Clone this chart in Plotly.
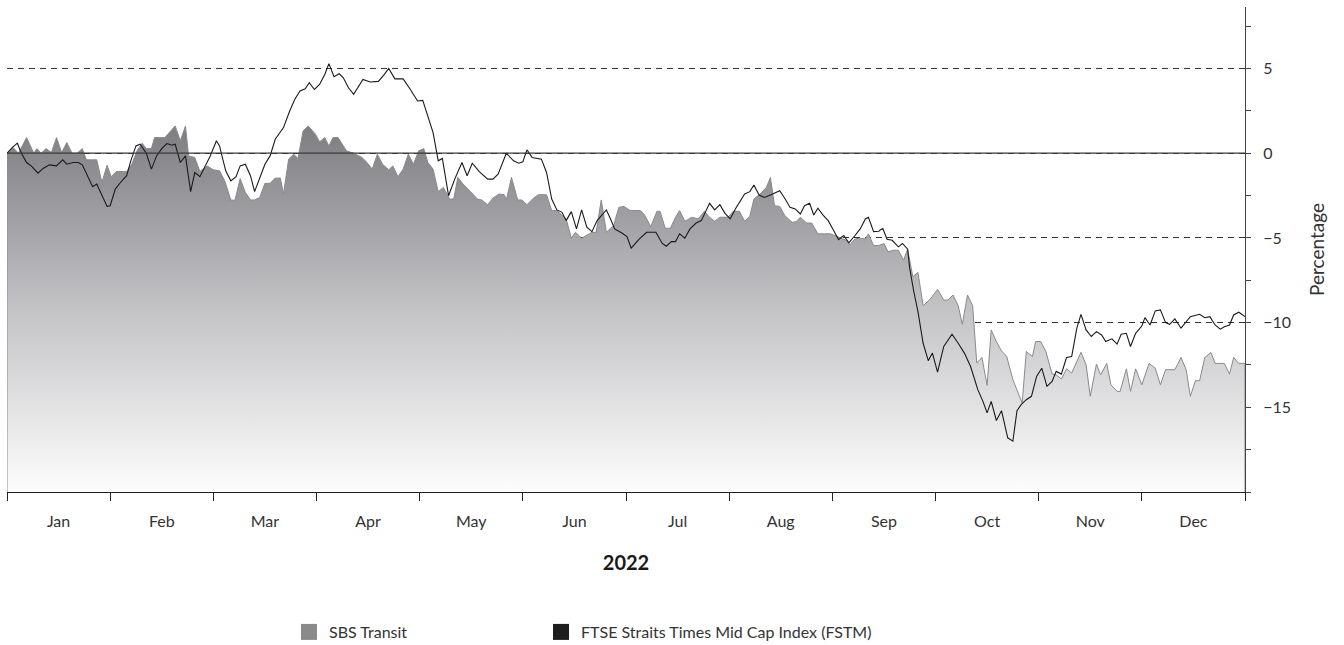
import plotly.graph_objects as go

# ---- data (x in months since 1 Jan 2022, values in %) ----
months = ["Jan", "Feb", "Mar", "Apr", "May", "Jun", "Jul", "Aug", "Sep", "Oct", "Nov", "Dec"]

sbs_t = [0.00, 0.06, 0.11, 0.19, 0.26, 0.29, 0.33, 0.38, 0.43, 0.48, 0.53, 0.58, 0.63, 0.68, 0.73, 0.77,
         0.87, 0.92, 0.97, 1.01, 1.06, 1.16, 1.21, 1.26, 1.31, 1.35, 1.40, 1.43, 1.53, 1.63, 1.68, 1.73,
         1.76, 1.82, 1.87, 1.94, 2.00, 2.06, 2.11, 2.17, 2.21, 2.26, 2.31, 2.36, 2.40, 2.45, 2.50, 2.55,
         2.60, 2.65, 2.68, 2.73, 2.78, 2.82, 2.87, 2.92, 2.99, 3.03, 3.08, 3.12, 3.16, 3.21, 3.29, 3.36,
         3.44, 3.49, 3.54, 3.59, 3.64, 3.70, 3.74, 3.79, 3.84, 3.89, 3.94, 3.99, 4.04, 4.08, 4.13, 4.18,
         4.23, 4.29, 4.33, 4.37, 4.42, 4.49, 4.56, 4.60, 4.66, 4.71, 4.77, 4.82, 4.84, 4.89, 4.95, 4.99,
         5.04, 5.10, 5.15, 5.23, 5.28, 5.33, 5.39, 5.42, 5.47, 5.51, 5.57, 5.62, 5.67, 5.71, 5.76, 5.81,
         5.88, 5.93, 5.98, 6.04, 6.14, 6.18, 6.24, 6.30, 6.33, 6.38, 6.43, 6.48, 6.52, 6.57, 6.64, 6.70,
         6.76, 6.81, 6.86, 6.91, 6.99, 7.04, 7.10, 7.15, 7.20, 7.24, 7.31, 7.36, 7.40, 7.44, 7.49, 7.54,
         7.61, 7.65, 7.69, 7.75, 7.80, 7.86, 7.98, 8.04, 8.09, 8.14, 8.17, 8.22, 8.27, 8.32, 8.35, 8.40,
         8.45, 8.46, 8.50, 8.54, 8.59, 8.64, 8.69, 8.73, 8.78, 8.83, 8.88, 8.95, 9.02, 9.08, 9.12, 9.17,
         9.22, 9.26, 9.31, 9.36, 9.40, 9.45, 9.50, 9.54, 9.59, 9.64, 9.69, 9.75, 9.84, 9.88, 9.94, 9.97,
         10.02, 10.07, 10.13, 10.17, 10.22, 10.27, 10.32, 10.41, 10.46, 10.50, 10.56, 10.60, 10.66, 10.70,
         10.76, 10.79, 10.85, 10.89, 10.94, 11.00, 11.07, 11.13, 11.18, 11.23, 11.32, 11.38, 11.43, 11.47,
         11.52, 11.56, 11.61, 11.67, 11.71, 11.80, 11.85, 11.89, 11.94, 12.00]
sbs_v = [0.00, 0.33, 0.00, 0.92, 0.00, 0.27, 0.00, 0.27, 0.04, 0.92, 0.04, 0.63, 0.00, 0.00, 0.27, -0.39,
         -0.39, -1.73, -0.71, -1.39, -1.08, -1.08, -0.65, 0.14, 0.59, 0.27, 0.27, 0.92, 0.92, 1.61, 0.73, 1.61,
         -0.16, -0.25, -1.08, -0.75, -0.98, -1.04, -1.63, -2.77, -2.77, -1.50, -2.31, -2.76, -2.76, -2.61, -1.78, -1.78,
         -1.47, -1.47, -2.41, -0.35, -0.06, -0.31, 1.31, 1.61, 1.12, 0.67, 0.92, 0.43, 0.92, 0.92, 0.14, 0.00,
         -0.25, -0.55, -0.94, -0.06, -0.65, -0.98, -0.75, -1.39, -0.94, -0.06, -0.65, 0.14, 0.27, -0.55, -0.94, -2.27,
         -2.02, -2.71, -2.71, -1.43, -1.82, -2.25, -2.71, -2.76, -3.04, -2.65, -2.41, -2.45, -2.76, -1.43, -2.76, -2.76,
         -3.04, -2.67, -2.45, -2.45, -3.39, -3.39, -3.75, -3.88, -5.02, -4.67, -5.02, -4.86, -4.67, -4.67, -2.76, -4.67,
         -4.27, -3.20, -3.14, -3.39, -3.39, -3.65, -4.33, -3.43, -3.43, -4.43, -4.43, -3.78, -3.39, -4.02, -3.78, -3.88,
         -3.43, -3.78, -4.02, -3.78, -3.78, -3.43, -3.43, -4.02, -3.73, -2.71, -2.35, -2.02, -1.43, -3.10, -3.14, -3.69,
         -4.08, -4.04, -3.78, -4.12, -4.12, -4.76, -4.76, -4.90, -5.02, -5.16, -5.41, -5.06, -5.02, -5.06, -4.76, -5.45,
         -5.45, -5.43, -5.33, -5.82, -5.73, -5.73, -6.31, -5.67, -7.29, -7.04, -9.00, -8.61, -8.04, -8.67, -8.67, -8.37,
         -9.00, -10.10, -8.37, -9.00, -12.39, -12.06, -13.71, -10.43, -11.12, -11.67, -12.00, -13.37, -14.75, -11.71, -12.00, -11.12,
         -11.12, -11.71, -13.04, -13.08, -13.33, -12.73, -12.98, -11.75, -12.49, -14.35, -12.45, -13.08, -12.41, -13.67,
         -14.06, -14.06, -12.73, -14.06, -12.73, -13.67, -12.41, -12.69, -13.67, -12.78, -12.78, -12.06, -12.78, -14.35,
         -13.43, -13.43, -12.06, -11.76, -12.41, -12.41, -13.04, -12.06, -12.41, -12.41]

fstm_t = [0.00, 0.05, 0.10, 0.14, 0.19, 0.24, 0.30, 0.35, 0.41, 0.48, 0.54, 0.58, 0.64, 0.69, 0.73, 0.78,
          0.83, 0.87, 0.92, 0.97, 1.00, 1.05, 1.10, 1.16, 1.20, 1.25, 1.29, 1.35, 1.40, 1.45, 1.50, 1.55,
          1.60, 1.63, 1.68, 1.73, 1.78, 1.82, 1.87, 1.92, 1.97, 2.03, 2.06, 2.12, 2.17, 2.22, 2.26, 2.31,
          2.36, 2.40, 2.45, 2.50, 2.55, 2.60, 2.68, 2.74, 2.79, 2.84, 2.89, 2.93, 2.98, 3.03, 3.08, 3.12,
          3.17, 3.22, 3.26, 3.31, 3.36, 3.41, 3.45, 3.52, 3.60, 3.65, 3.70, 3.76, 3.84, 3.91, 3.98, 4.03,
          4.08, 4.13, 4.18, 4.22, 4.28, 4.34, 4.41, 4.46, 4.51, 4.58, 4.66, 4.71, 4.76, 4.84, 4.91, 4.96,
          5.00, 5.04, 5.09, 5.18, 5.23, 5.28, 5.33, 5.38, 5.42, 5.47, 5.52, 5.57, 5.62, 5.67, 5.72, 5.81,
          5.85, 5.89, 5.96, 6.01, 6.05, 6.13, 6.20, 6.29, 6.35, 6.39, 6.44, 6.48, 6.52, 6.57, 6.62, 6.68,
          6.73, 6.77, 6.81, 6.86, 6.91, 6.96, 7.01, 7.06, 7.10, 7.15, 7.20, 7.24, 7.29, 7.34, 7.40, 7.49,
          7.54, 7.59, 7.64, 7.69, 7.73, 7.78, 7.82, 7.86, 7.91, 7.96, 8.01, 8.06, 8.11, 8.16, 8.22, 8.27,
          8.32, 8.35, 8.40, 8.45, 8.46, 8.49, 8.53, 8.58, 8.64, 8.68, 8.73, 8.75, 8.79, 8.83, 8.88, 8.93,
          8.97, 9.02, 9.08, 9.16, 9.22, 9.28, 9.34, 9.41, 9.46, 9.50, 9.54, 9.59, 9.64, 9.70, 9.75, 9.79,
          9.83, 9.88, 9.93, 9.98, 10.03, 10.08, 10.13, 10.17, 10.22, 10.27, 10.32, 10.37, 10.41, 10.46, 10.51,
          10.56, 10.61, 10.65, 10.71, 10.76, 10.80, 10.85, 10.89, 10.94, 11.00, 11.03, 11.08, 11.13, 11.18,
          11.23, 11.27, 11.32, 11.38, 11.42, 11.47, 11.56, 11.61, 11.66, 11.71, 11.76, 11.80, 11.85, 11.89,
          11.94, 12.00]
fstm_v = [0.00, 0.33, 0.59, 0.00, -0.55, -0.78, -1.18, -0.90, -0.69, -0.75, -0.39, -0.65, -0.55, -0.55, -0.69, -1.33,
          -1.98, -1.82, -2.51, -3.14, -3.10, -2.12, -1.73, -1.33, -0.45, 0.43, 0.53, 0.00, -0.94, -0.16, 0.27, 0.57,
          0.47, 0.53, -0.55, -0.16, -2.27, -1.14, -1.39, -0.75, -0.16, 0.73, 0.43, -1.04, -1.63, -1.39, -0.75, -0.65,
          -1.33, -2.27, -1.43, -0.65, -0.16, 0.82, 1.51, 2.49, 3.18, 3.67, 3.80, 4.16, 3.76, 4.06, 4.65, 5.29,
          4.51, 4.69, 4.45, 3.86, 3.47, 4.00, 4.35, 4.20, 4.24, 4.59, 5.00, 4.39, 4.39, 3.76, 3.08, 3.12,
          2.10, 1.22, -0.45, -0.31, -2.51, -1.53, -0.55, -1.33, -0.59, -1.10, -1.53, -1.53, -1.24, 0.00, -0.45, -0.59,
          -0.51, 0.20, -0.25, -0.35, -1.14, -2.71, -3.35, -3.49, -3.98, -3.45, -4.47, -3.35, -4.37, -4.63, -3.98, -3.35,
          -3.88, -4.47, -4.71, -4.92, -5.61, -5.06, -4.67, -4.67, -5.31, -5.49, -5.22, -5.22, -4.76, -5.02, -4.47, -4.12,
          -3.98, -3.49, -2.96, -3.35, -3.04, -3.55, -3.88, -3.29, -2.86, -2.41, -2.27, -1.88, -2.47, -2.61, -2.47, -2.22,
          -2.67, -3.20, -3.29, -3.59, -3.10, -2.96, -3.65, -3.25, -3.65, -3.98, -4.53, -5.10, -4.86, -5.29, -4.86, -4.47,
          -3.88, -3.78, -4.63, -4.61, -4.55, -4.45, -5.08, -5.14, -5.53, -5.33, -5.67, -6.80, -8.18, -9.35, -11.22, -12.25,
          -11.80, -12.92, -11.41, -10.69, -11.22, -11.80, -12.59, -13.96, -14.65, -15.33, -14.65, -15.78, -15.20, -16.80, -17.00, -15.20,
          -14.84, -14.55, -14.35, -13.18, -12.69, -13.76, -13.47, -12.88, -13.04, -12.06, -12.00, -10.33, -9.51, -10.43, -10.82,
          -10.53, -10.73, -11.12, -10.96, -11.27, -10.69, -10.63, -11.41, -10.63, -10.20, -9.71, -10.14, -9.31, -9.25,
          -10.00, -10.10, -9.78, -10.33, -10.04, -9.65, -9.51, -9.71, -9.65, -10.14, -10.39, -10.24, -10.14, -9.55,
          -9.39, -9.65]

y_min, y_max = -20, 8.63
y_ticks = [-15, -10, -5, 0, 5]

FONT = "Lato, 'Open Sans', sans-serif"
TXT = "#333333"

# plot-area geometry in pixels (for legend placement)
L, R, T, B = 7, 99, 7, 153
PW, PH = 1344 - L - R, 645 - T - B

fig = go.Figure()

# SBS Transit area (closed polygon down to the axis floor, gradient fill)
fig.add_trace(go.Scatter(
    x=[sbs_t[0]] + sbs_t + [sbs_t[-1]],
    y=[y_min] + sbs_v + [y_min],
    mode="lines",
    fill="toself",
    fillgradient=dict(type="vertical", start=y_min, stop=1.7,
                      colorscale=[[0, "#fdfdfd"], [0.5, "#c3c3c6"], [1, "#7c7c81"]]),
    line=dict(color="#8a8a8e", width=1),
    showlegend=False, hoverinfo="skip",
))

# FSTM line
fig.add_trace(go.Scatter(
    x=fstm_t, y=fstm_v, mode="lines",
    line=dict(color="#1a1a1a", width=1.1),
    showlegend=False,
))

# legend swatches (two legends placed independently)
fig.add_trace(go.Scatter(x=[None], y=[None], mode="markers", name="SBS Transit",
                         marker=dict(symbol="square", size=16, color="#8a8a8a"),
                         legend="legend"))
fig.add_trace(go.Scatter(x=[None], y=[None], mode="markers",
                         name="FTSE Straits Times Mid Cap Index (FSTM)",
                         marker=dict(symbol="square", size=16, color="#1e1e1e"),
                         legend="legend2"))

# zero line above the area
fig.add_shape(type="line", xref="paper", yref="y", x0=0, x1=1, y0=0, y1=0,
              line=dict(color="#3a3a3a", width=1.2), layer="above")

leg_y = (645 - B - 632) / PH
leg_common = dict(orientation="h", yanchor="middle", y=leg_y, xanchor="left",
                  font=dict(size=16, color=TXT), bgcolor="rgba(0,0,0,0)")

fig.update_layout(
    width=1344, height=645,
    margin=dict(l=L, r=R, t=T, b=B, autoexpand=False),
    plot_bgcolor="white", paper_bgcolor="white",
    font=dict(family=FONT, color=TXT, size=16),
    legend=dict(x=(289 - L) / PW, **leg_common),
    legend2=dict(x=(541 - L) / PW, **leg_common),
    xaxis=dict(
        range=[0, 12], tickvals=[i + 0.5 for i in range(12)], ticktext=months,
        ticks="", showgrid=False, zeroline=False, automargin=False,
        showline=True, linecolor="#222222", linewidth=1,
        minor=dict(tick0=0, dtick=1, ticks="outside", ticklen=8, tickcolor="#222222", tickwidth=1),
        ticklabelstandoff=15,
        tickfont=dict(size=16, color=TXT),
        title=dict(text="<b>2022</b>", font=dict(size=20, color="#1a1a1a"), standoff=26),
        fixedrange=True,
    ),
    yaxis=dict(
        range=[y_min, y_max], side="right", tickvals=y_ticks, automargin=False,
        ticks="outside", ticklen=5, tickcolor="#444444", tickwidth=1,
        minor=dict(dtick=2.5, tick0=0, ticks="outside", ticklen=5, tickcolor="#444444",
                   showgrid=False),
        showgrid=True, gridcolor="#333333", gridwidth=1, griddash="6px,5px",
        zeroline=False,
        showline=True, linecolor="#444444", linewidth=1,
        ticklabelstandoff=9,
        tickfont=dict(size=16, color=TXT),
        title=dict(text="Percentage", font=dict(size=19, color=TXT), standoff=20),
        fixedrange=True,
    ),
)

# remove the page's default body margin so the figure sits at the window origin
fig.write_html("out.html", config={"displayModeBar": False},
               post_script="document.body.style.margin='0';")
